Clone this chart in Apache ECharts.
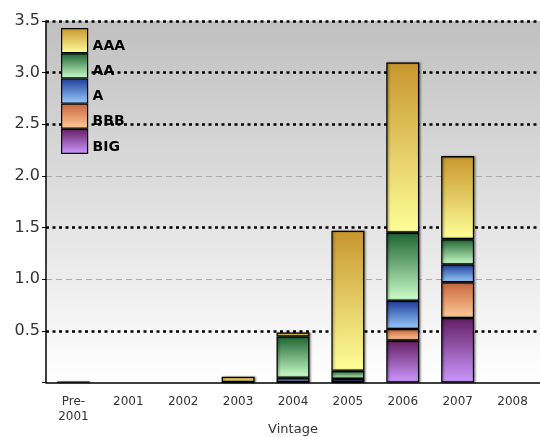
<!DOCTYPE html>
<html>
<head>
<meta charset="utf-8">
<script src="https://cdn.jsdelivr.net/npm/echarts@6/dist/echarts.min.js"></script>
<style>
  html, body { margin: 0; padding: 0; background: #ffffff; }
  #chart { width: 540px; height: 437px; }
</style>
</head>
<body>
<div id="chart"></div>
<script>
// Vintage categories along the x axis
const vintages = ['Pre-\n2001', '2001', '2002', '2003', '2004', '2005', '2006', '2007', '2008'];

// Stacked amounts per rating bucket, bottom to top
const bigValues = [0, 0, 0, 0, 0.005, 0.005, 0.405, 0.625, 0];
const bbbValues = [0, 0, 0, 0, 0, 0, 0.113, 0.346, 0];
const aValues   = [0.006, 0, 0, 0, 0.04, 0.03, 0.274, 0.171, 0];
const aaValues  = [0, 0, 0, 0.005, 0.40, 0.078, 0.659, 0.246, 0];
const aaaValues = [0, 0, 0, 0.05, 0.04, 1.357, 1.647, 0.804, 0];

// Value axis ticks
const yMax = 3.5;
const yStep = 0.5;

const FONT = 'DejaVu Sans';

function grad(top, bottom) {
  return new echarts.graphic.LinearGradient(0, 0, 0, 1, [
    { offset: 0, color: top },
    { offset: 1, color: bottom }
  ]);
}

function blankZero(arr) {
  return arr.map(v => (v === 0 ? '-' : v));
}

function barSeries(name, values, top, bottom) {
  return {
    name: name,
    type: 'bar',
    stack: 'total',
    barWidth: 33,
    data: blankZero(values),
    itemStyle: {
      color: grad(top, bottom),
      borderColor: '#000000',
      borderWidth: 1.3,
      shadowColor: 'rgba(0,0,0,0.35)',
      shadowBlur: 2,
      shadowOffsetX: 1.5,
      shadowOffsetY: 0
    },
    emphasis: { disabled: true },
    z: 5
  };
}

const chart = echarts.init(document.getElementById('chart'), null, { renderer: 'canvas' });

chart.setOption({
  animation: false,
  backgroundColor: '#ffffff',
  textStyle: { fontFamily: FONT },
  grid: {
    left: 46,
    right: 0,
    top: 21,
    bottom: 54.5,
    outerBoundsMode: 'none',
    containLabel: false,
    show: true,
    borderWidth: 0,
    backgroundColor: grad('#c0c0c0', '#ffffff')
  },
  legend: {
    orient: 'vertical',
    left: 61,
    top: 28,
    padding: 0,
    itemWidth: 26,
    itemHeight: 24,
    itemGap: 0,
    icon: 'rect',
    data: ['AAA', 'AA', 'A', 'BBB', 'BIG'],
    selectedMode: false,
    itemStyle: { borderWidth: 1.2, shadowBlur: 0, shadowOffsetX: 0 },
    // names sit in the lower half of each swatch
    formatter: name => '\n' + name,
    textStyle: {
      fontFamily: FONT,
      fontSize: 14,
      fontWeight: 'bold',
      color: '#000000',
      lineHeight: 11
    }
  },
  xAxis: {
    type: 'category',
    data: vintages,
    name: 'Vintage',
    nameLocation: 'middle',
    nameGap: 41,
    nameMoveOverlap: false,
    nameTextStyle: { fontFamily: FONT, fontSize: 13, color: '#333333' },
    axisLine: { lineStyle: { color: '#000000', width: 1.5 } },
    axisTick: { show: false },
    axisLabel: {
      fontFamily: FONT,
      fontSize: 12,
      color: '#333333',
      lineHeight: 15,
      margin: 12,
      interval: 0
    },
    splitLine: { show: false }
  },
  yAxis: [
    {
      type: 'value',
      min: 0,
      max: yMax,
      interval: yStep,
      axisLine: { show: true, lineStyle: { color: '#000000', width: 1.5 } },
      axisTick: { show: true, length: 4, lineStyle: { color: '#000000' } },
      axisLabel: {
        fontFamily: FONT,
        fontSize: 16,
        color: '#333333',
        margin: 6,
        formatter: v => (v === 0 ? '' : v.toFixed(1))
      },
      splitLine: {
        show: true,
        lineStyle: {
          // heavy dotted rules, with the 1.0 and 2.0 rules left to the light axis below
          color: ['transparent', '#000000', 'transparent', '#000000', 'transparent', '#000000', '#000000', '#000000'],
          width: 2.5,
          type: [3, 3.5]
        }
      },
      z: 3
    },
    {
      type: 'value',
      min: 0,
      max: yMax,
      interval: 1,
      show: true,
      axisLine: { show: false },
      axisTick: { show: false },
      axisLabel: { show: false },
      splitLine: {
        show: true,
        lineStyle: {
          color: ['transparent', '#aaaaaa', '#aaaaaa', 'transparent'],
          width: 1,
          type: [6, 4]
        }
      }
    }
  ],
  series: [
    barSeries('BIG', bigValues, '#641e64', '#cc99ff'),
    barSeries('BBB', bbbValues, '#c8643c', '#ffcc99'),
    barSeries('A', aValues, '#1e3c96', '#99ccff'),
    barSeries('AA', aaValues, '#1e6432', '#ccffcc'),
    barSeries('AAA', aaaValues, '#c8962e', '#ffff99')
  ]
});
</script>
</body>
</html>
